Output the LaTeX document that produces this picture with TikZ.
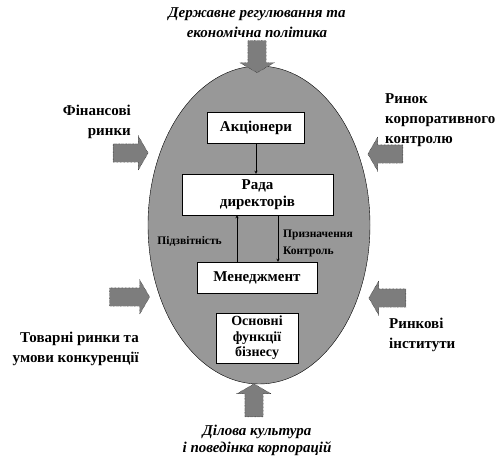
\documentclass[tikz,border=0pt]{standalone}
\usepackage{fontspec}
\setmainfont{Liberation Serif}
\usepackage{tikz}
\usetikzlibrary{shapes.geometric, shapes.arrows, arrows, positioning}
\definecolor{ovalgray}{RGB}{152,152,152}
\definecolor{forcegray}{RGB}{125,125,125}
\tikzstyle{block} = [rectangle, draw=black, fill=white, text centered, inner sep=1pt, font=\bfseries\fontsize{15}{17}\selectfont]
\tikzstyle{force} = [single arrow, draw=black, densely dotted, fill=forcegray, inner xsep=0pt, inner ysep=9pt, single arrow head extend=8pt, single arrow tip angle=120, minimum height=35pt]
\tikzstyle{outer} = [inner sep=0pt, font=\bfseries\fontsize{15}{20}\selectfont]
\tikzstyle{note} = [inner sep=0pt, align=left, font=\bfseries\fontsize{11.5}{17}\selectfont]
\tikzstyle{link} = [->, >=stealth, thin]

\begin{document}
\begin{tikzpicture}[x=1pt, y=-1pt]
    \useasboundingbox (0,0) rectangle (500,458);

    \node (oval) [ellipse, draw=black, fill=ovalgray, minimum width=222pt, minimum height=318pt] at (259,225) {};

    % external forces
    \node (gov) [outer, align=center, font=\bfseries\itshape\fontsize{15}{20}\selectfont] at (257,23) {Державне регулювання та\\економічна політика};
    \node (govarrow) [force, rotate=270, minimum height=32pt] at (257,54) {};
    \node (fin) [outer, align=right, anchor=east] at (131,122) {Фінансові\\ринки};
    \node (finarrow) [force] at (128,153) {};
    \node (corp) [outer, align=left, anchor=west] at (385,120) {Ринок\\корпоративного\\контролю};
    \node (corparrow) [force, rotate=180] at (388,154) {};
    \node (goods) [outer, align=right, anchor=east] at (139,349) {Товарні ринки та\\умови конкуренції};
    \node (goodsarrow) [force, minimum height=40pt] at (127,297) {};
    \node (inst) [outer, align=left, anchor=west] at (389,335) {Ринкові\\інститути};
    \node (instarrow) [force, rotate=180, minimum height=37pt] at (390,298) {};
    \node (culture) [outer, align=center, font=\bfseries\itshape\fontsize{15}{17}\selectfont] at (257,440) {Ділова культура\\і поведінка корпорацій};
    \node (culturearrow) [force, rotate=90, minimum height=33pt] at (254,403) {};

    % inside the company
    \node (owners) [block, minimum width=97pt, minimum height=31pt] at (256,127.5) {Акціонери};
    \node (board) [block, align=center, minimum width=151pt, minimum height=41pt] at (257.5,194.5) {Рада\\директорів};
    \node (mgmt) [block, minimum width=120pt, minimum height=31pt] at (257,277.5) {Менеджмент};
    \node (core) [block, align=center, minimum width=82pt, minimum height=50pt, font=\bfseries\fontsize{14}{15.5}\selectfont] at (257,338) {Основні\\функції\\бізнесу};

    \draw [link] (owners.south) -- (owners.south |- board.north);
    \draw [link] ([xshift=-20pt]mgmt.north) -- ([xshift=-20pt]mgmt.north |- board.south);
    \draw [link] ([xshift=21pt]mgmt.north |- board.south) -- ([xshift=21pt]mgmt.north);

    \node (report) [note, anchor=east] at (222,242) {Підзвітність};
    \node (control) [note, anchor=west] at (283,243) {Призначення\\Контроль};
\end{tikzpicture}
\end{document}
